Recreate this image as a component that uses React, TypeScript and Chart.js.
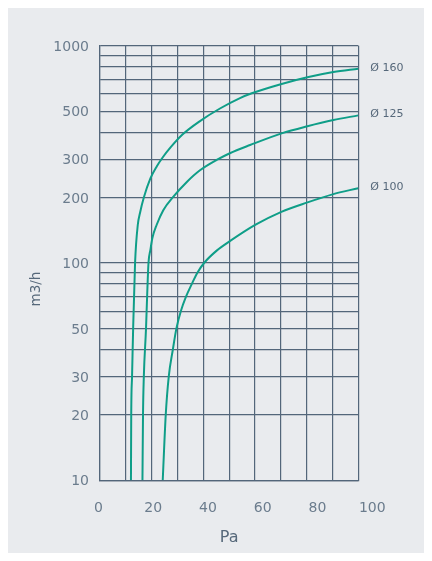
import React, { useEffect, useRef } from "react";
import { Chart, registerables } from "chart.js";

Chart.register(...registerables);

// ---- data ----
const seriesNames = ["Ø 160", "Ø 125", "Ø 100"];

const pa160 = [11.9, 12.0, 12.3, 12.7, 13.4, 14.4, 15.2, 16.6, 19.0, 21.3, 23.4, 26.5, 30.7, 37.1, 44.4, 51.7, 56.0, 66.9, 76.3, 85.8, 94.9];
const flow160 = [10, 20, 30, 50, 100, 150, 170, 200, 245, 278, 305, 342, 390, 450, 514, 574, 604, 667, 716, 757, 784];

const pa125 = [16.1, 16.3, 16.6, 17.4, 17.8, 18.3, 19.0, 19.7, 21.3, 23.7, 27.4, 32.3, 37.1, 43.2, 48.0, 55.4, 66.9, 76.3, 85.8, 94.9];
const flow125 = [10, 20, 30, 50, 70, 100, 115, 130, 150, 175, 202, 236, 267, 298, 320, 349, 395, 426, 455, 478];

const pa100 = [23.5, 24.6, 25.7, 27.2, 28.5, 30.1, 32.0, 34.1, 36.1, 38.6, 43.2, 48.0, 57.4, 66.8, 76.3, 85.5, 94.9];
const flow100 = [10, 20, 30, 40, 50, 60, 70, 80, 90, 100, 114, 126, 150, 172, 190, 207, 221];

const xTickValues = [0, 20, 40, 60, 80, 100];
const yGridValues = [10, 20, 30, 40, 50, 60, 70, 80, 90, 100, 200, 300, 400, 500, 600, 700, 800, 900, 1000];
const yTickLabels = [10, 20, 30, 50, 100, 200, 300, 500, 1000];
const xTitle = "Pa";
const yTitle = "m3/h";

// frame of the plotted grid (in Pa / m3/h)
const X_MIN = 0.6;
const X_MAX = 94.9;
const Y_MIN = 10;
const Y_MAX = 1000;
const X_GRID_DIVISIONS = 10;

// ---- styles ----
const BG = "#e9ebee";
const GRID = "#53667a";
const TICK_COLOR = "#6b7c8d";
const TITLE_COLOR = "#56687a";
const LINE = "#0f9e88";
const FONT = "'DejaVu Sans'";

const toPoints = (xs: number[], ys: number[]) => xs.map((x, i) => ({ x, y: ys[i] }));

const endLabels = {
  id: "endLabels",
  afterDatasetsDraw(chart: any) {
    const ctx = chart.ctx;
    ctx.save();
    ctx.font = `11px ${FONT}`;
    ctx.fillStyle = TITLE_COLOR;
    ctx.textBaseline = "middle";
    ctx.textAlign = "left";
    chart.data.datasets.forEach((ds: any, i: number) => {
      const meta = chart.getDatasetMeta(i);
      const pt = meta.data[meta.data.length - 1];
      if (pt) ctx.fillText(ds.label, pt.x + 12, pt.y - 1);
    });
    ctx.restore();
  },
};

const yTitlePlugin = {
  id: "yTitlePlugin",
  afterDraw(chart: any) {
    const ctx = chart.ctx;
    const a = chart.chartArea;
    ctx.save();
    ctx.translate(a.left - 64, (a.top + a.bottom) / 2 + 26);
    ctx.rotate(-Math.PI / 2);
    ctx.textAlign = "center";
    ctx.textBaseline = "middle";
    ctx.font = `13.5px ${FONT}`;
    ctx.fillStyle = TITLE_COLOR;
    ctx.fillText(yTitle, 0, 0);
    ctx.restore();
  },
};

export default function App() {
  const ref = useRef<HTMLCanvasElement | null>(null);

  useEffect(() => {
    if (!ref.current) return;
    Chart.defaults.font.family = FONT;
    const mk = (label: string, xs: number[], ys: number[]) => ({
      label,
      data: toPoints(xs, ys),
      borderColor: LINE,
      backgroundColor: LINE,
      borderWidth: 2,
      pointRadius: 0,
      cubicInterpolationMode: "monotone" as const,
      fill: false,
      xAxisID: "x",
      yAxisID: "y",
    });
    const chart = new Chart(ref.current, {
      type: "line",
      data: {
        datasets: [
          mk(seriesNames[0], pa160, flow160),
          mk(seriesNames[1], pa125, flow125),
          mk(seriesNames[2], pa100, flow100),
        ],
      },
      options: {
        animation: false,
        responsive: true,
        maintainAspectRatio: false,
        layout: { padding: { top: 37.7, right: 65.7, bottom: 0, left: 0 } },
        plugins: { legend: { display: false }, tooltip: { enabled: false } },
        scales: {
          x: {
            type: "linear",
            position: "bottom",
            weight: 0,
            min: X_MIN,
            max: X_MAX,
            afterBuildTicks: (scale: any) => {
              scale.ticks = Array.from({ length: X_GRID_DIVISIONS + 1 }, (_, i) => ({
                value: X_MIN + ((X_MAX - X_MIN) * i) / X_GRID_DIVISIONS,
              }));
            },
            afterFit: (scale: any) => {
              scale.height = 0;
            },
            ticks: { display: false },
            grid: { color: GRID, lineWidth: 1.2, drawTicks: false },
            border: { display: true, color: GRID, width: 1.2 },
          },
          xLabels: {
            type: "linear",
            position: "bottom",
            axis: "x",
            weight: 1,
            min: X_MIN,
            max: X_MAX,
            afterBuildTicks: (scale: any) => {
              scale.ticks = xTickValues.map((v) => ({ value: v }));
            },
            afterFit: (scale: any) => {
              scale.height = 72.7;
            },
            grid: { display: false },
            border: { display: false },
            ticks: {
              autoSkip: false,
              maxRotation: 0,
              padding: 12,
              color: TICK_COLOR,
              font: { size: 14 },
              callback: (v: any) => String(v),
            },
            title: {
              display: true,
              text: xTitle,
              color: TITLE_COLOR,
              font: { size: 16 },
              padding: { top: 0, bottom: 6 },
            },
          },
          y: {
            type: "logarithmic",
            position: "left",
            min: Y_MIN,
            max: Y_MAX,
            afterBuildTicks: (scale: any) => {
              scale.ticks = yGridValues.map((v) => ({ value: v }));
            },
            afterFit: (scale: any) => {
              scale.width = 92;
            },
            grid: { color: GRID, lineWidth: 1.2, drawTicks: false },
            border: { display: true, color: GRID, width: 1.2 },
            ticks: {
              autoSkip: false,
              padding: 11,
              labelOffset: 1.5,
              color: TICK_COLOR,
              font: { size: 14 },
              callback: (v: any) => (yTickLabels.includes(Number(v)) ? String(v) : ""),
            },
          },
        },
      } as any,
      plugins: [endLabels, yTitlePlugin],
    });
    return () => chart.destroy();
  }, []);

  return (
    <div style={{ width: 416, height: 545, background: BG, position: "relative" }}>
      <canvas ref={ref} />
    </div>
  );
}
